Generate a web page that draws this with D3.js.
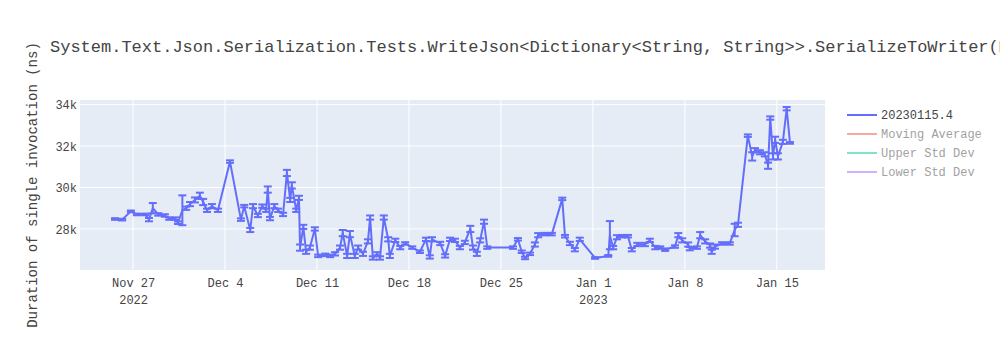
<!DOCTYPE html>
<html>
<head>
<meta charset="utf-8">
<script src="https://cdn.jsdelivr.net/npm/d3@7"></script>
<style>
  html, body { margin: 0; padding: 0; background: #fff; }
  svg { display: block; }
  text { font-family: "Liberation Mono", "Courier New", monospace; }
</style>
</head>
<body>
<svg id="chart" width="1000" height="350"></svg>
<script>
// ---- data ----
const dates = [
  "2022-11-25T15:00","2022-11-26T04:00","2022-11-26T20:00","2022-11-27T07:00","2022-11-27T22:00",
  "2022-11-28T05:00","2022-11-28T12:00","2022-11-28T22:00","2022-11-29T10:00","2022-11-29T18:00",
  "2022-11-30T05:00","2022-11-30T10:00","2022-11-30T18:00","2022-12-01T01:00","2022-12-01T08:00",
  "2022-12-01T17:00","2022-12-02T02:00","2022-12-02T08:00","2022-12-02T15:00","2022-12-03T00:00",
  "2022-12-03T11:00","2022-12-04T09:00","2022-12-05T05:00","2022-12-05T11:00","2022-12-05T22:00",
  "2022-12-06T03:00","2022-12-06T12:00","2022-12-06T20:00","2022-12-07T03:00","2022-12-07T06:00",
  "2022-12-07T10:00","2022-12-07T18:00","2022-12-08T01:00","2022-12-08T10:00","2022-12-08T17:00",
  "2022-12-08T23:00","2022-12-09T02:00","2022-12-09T10:00","2022-12-09T15:00","2022-12-09T17:00",
  "2022-12-09T23:00","2022-12-10T04:00","2022-12-10T11:00","2022-12-10T20:00","2022-12-11T02:00",
  "2022-12-11T15:00","2022-12-12T00:00","2022-12-12T09:00","2022-12-12T18:00","2022-12-12T23:00",
  "2022-12-13T07:00","2022-12-13T12:00","2022-12-13T21:00","2022-12-14T03:00","2022-12-14T12:00",
  "2022-12-14T21:00","2022-12-15T01:00","2022-12-15T06:00","2022-12-15T14:00","2022-12-15T19:00",
  "2022-12-16T02:00","2022-12-16T10:00","2022-12-16T13:00","2022-12-16T23:00","2022-12-17T08:00",
  "2022-12-17T17:00","2022-12-18T06:00","2022-12-18T20:00","2022-12-19T07:00","2022-12-19T14:00",
  "2022-12-19T18:00","2022-12-20T09:00","2022-12-20T18:00","2022-12-21T03:00","2022-12-21T12:00",
  "2022-12-21T21:00","2022-12-22T06:00","2022-12-22T16:00","2022-12-22T21:00","2022-12-23T04:00",
  "2022-12-23T10:00","2022-12-23T17:00","2022-12-23T23:00","2022-12-25T22:00","2022-12-26T07:00",
  "2022-12-26T14:00","2022-12-26T20:00","2022-12-27T05:00","2022-12-27T14:00","2022-12-27T20:00",
  "2022-12-28T08:00","2022-12-28T21:00","2022-12-29T16:00","2022-12-29T21:00","2022-12-30T06:00",
  "2022-12-30T15:00","2022-12-31T00:00","2023-01-01T04:00","2023-01-02T04:00","2023-01-02T07:00",
  "2023-01-02T13:00","2023-01-02T20:00","2023-01-03T05:00","2023-01-03T16:00","2023-01-03T23:00",
  "2023-01-04T09:00","2023-01-04T23:00","2023-01-05T08:00","2023-01-05T18:00","2023-01-06T03:00",
  "2023-01-06T12:00","2023-01-07T06:00","2023-01-07T12:00","2023-01-07T19:00","2023-01-08T06:00",
  "2023-01-08T09:00","2023-01-08T22:00","2023-01-09T04:00","2023-01-09T13:00","2023-01-09T22:00",
  "2023-01-10T01:00","2023-01-10T07:00","2023-01-10T20:00","2023-01-11T10:00","2023-01-11T19:00",
  "2023-01-12T01:00","2023-01-12T19:00","2023-01-13T03:00","2023-01-13T08:00","2023-01-13T17:00",
  "2023-01-14T02:00","2023-01-14T08:00","2023-01-14T12:00","2023-01-14T17:00","2023-01-14T21:00",
  "2023-01-15T02:00","2023-01-15T11:00","2023-01-15T18:00","2023-01-16T00:00"
];
const values = [
  28480,28450,28850,28700,28700,
  28450,29000,28700,28650,28500,
  28500,28300,28900,29000,29200,
  29400,29600,29300,28900,29100,
  28900,31250,28450,29100,27950,
  29100,28650,29100,28900,29900,
  28500,29100,28900,28700,30700,
  29400,30100,28900,29500,27100,
  28100,26900,27100,28000,26700,
  26750,26700,26800,27100,27800,
  26700,27750,26700,27100,26800,
  27400,28550,26600,26800,26600,
  28550,27500,26700,27450,27100,
  27300,27100,26900,27500,26650,
  27500,27300,26700,27500,27450,
  27100,27350,28000,27100,26800,
  27450,28350,27100,27100,27500,
  26900,26600,26800,27250,27700,
  27750,27750,29450,27650,27300,
  27000,27500,26600,26700,27700,
  27100,27600,27650,27650,27000,
  27250,27250,27450,27100,27100,
  27000,27150,27700,27450,27250,
  27050,27100,27700,27400,27200,
  26900,27150,27300,27300,27950,
  28200,32500,31500,31800,31700,
  31600,31050,33350,31500,32300,
  31500,32200,33800,32150
];
const errors = [
  40,40,40,40,40,
  80,250,60,60,60,
  60,60,720,80,100,
  120,150,150,80,100,
  80,60,60,60,100,
  100,80,80,80,150,
  80,100,80,80,150,
  100,150,80,100,150,
  100,100,100,80,60,
  60,60,80,100,150,
  100,150,100,100,100,
  100,100,80,80,80,
  100,100,100,80,80,
  60,60,60,80,80,
  100,80,80,80,80,
  80,80,150,100,100,
  100,100,60,60,60,
  60,60,60,100,100,
  60,60,60,60,80,
  80,80,40,40,680,
  80,100,60,60,80,
  80,80,80,80,60,
  60,60,100,100,100,
  80,60,150,100,100,
  100,100,60,60,300,
  100,60,200,100,100,
  100,150,80,150,150,
  150,100,80,40
];
const yTickValues = [28000, 30000, 32000, 34000];
const yTickLabels = ["28k", "30k", "32k", "34k"];
const legendNames = ["20230115.4", "Moving Average", "Upper Std Dev", "Lower Std Dev"];
const legendColors = ["#636efa", "#EF553B", "#00cc96", "#ab63fa"];
const legendVisible = [true, false, false, false];
const titleText = "System.Text.Json.Serialization.Tests.WriteJson<Dictionary<String, String>>.SerializeToWriter(Mode: Reflection)";
const yTitle = "Duration of single invocation (ns)";

// ---- layout ----
const W = 1000, H = 350;
const plot = { left: 80, right: 825, top: 100, bottom: 270 };
const parse = d3.isoParse;
const points = dates.map((d, i) => ({ t: parse(d), v: values[i], e: errors[i] }));

const x = d3.scaleTime()
  .domain([parse("2022-11-22T23:00"), parse("2023-01-18T16:00")])
  .range([plot.left, plot.right]);
const y = d3.scaleLinear()
  .domain([26020, 34220])
  .range([plot.bottom, plot.top]);

const svg = d3.select("#chart");
svg.append("rect").attr("width", W).attr("height", H).attr("fill", "#fff");
svg.append("rect")
  .attr("x", plot.left).attr("y", plot.top)
  .attr("width", plot.right - plot.left).attr("height", plot.bottom - plot.top)
  .attr("fill", "#e5ecf6");

// grid
const xTicks = d3.timeWeek.every(1).range(parse("2022-11-27T00:00"), parse("2023-01-16T00:00"));
svg.append("g").selectAll("line").data(xTicks).join("line")
  .attr("x1", d => x(d)).attr("x2", d => x(d))
  .attr("y1", plot.top).attr("y2", plot.bottom)
  .attr("stroke", "#fff").attr("stroke-width", 1);
svg.append("g").selectAll("line").data(yTickValues).join("line")
  .attr("x1", plot.left).attr("x2", plot.right)
  .attr("y1", d => y(d)).attr("y2", d => y(d))
  .attr("stroke", "#fff").attr("stroke-width", 1);

// axes
const fmtMD = d3.timeFormat("%b %-d");
const xAxis = d3.axisBottom(x).tickValues(xTicks).tickSize(0).tickPadding(0).tickFormat("");
const gx = svg.append("g").attr("transform", `translate(0,${plot.bottom})`).call(xAxis);
gx.select(".domain").remove();
gx.selectAll(".tick").each(function (d, i) {
  const g = d3.select(this);
  g.append("text").attr("y", 17).attr("fill", "#444").attr("font-size", 12)
    .attr("text-anchor", "middle").text(fmtMD(d));
  const prev = xTicks[i - 1];
  if (i === 0 || prev.getFullYear() !== d.getFullYear()) {
    g.append("text").attr("y", 34).attr("fill", "#444").attr("font-size", 12)
      .attr("text-anchor", "middle").text(d.getFullYear());
  }
});

const yAxis = d3.axisLeft(y).tickValues(yTickValues).tickSize(0).tickPadding(3)
  .tickFormat((d, i) => yTickLabels[i]);
const gy = svg.append("g").attr("transform", `translate(${plot.left},0)`).call(yAxis);
gy.select(".domain").remove();
gy.selectAll("text").attr("fill", "#444").attr("font-size", 12)
  .attr("font-family", "'Liberation Mono', 'Courier New', monospace")
  .attr("dy", "0.35em");

// clip
svg.append("clipPath").attr("id", "clip").append("rect")
  .attr("x", plot.left).attr("y", plot.top)
  .attr("width", plot.right - plot.left).attr("height", plot.bottom - plot.top);

const color = legendColors[0];
const gData = svg.append("g").attr("clip-path", "url(#clip)");
// error bars
const eb = gData.append("g").selectAll("g").data(points).join("g");
eb.append("line")
  .attr("x1", d => x(d.t)).attr("x2", d => x(d.t))
  .attr("y1", d => y(d.v - d.e)).attr("y2", d => y(d.v + d.e))
  .attr("stroke", color).attr("stroke-width", 2);
eb.append("line")
  .attr("x1", d => x(d.t) - 4).attr("x2", d => x(d.t) + 4)
  .attr("y1", d => y(d.v + d.e)).attr("y2", d => y(d.v + d.e))
  .attr("stroke", color).attr("stroke-width", 2);
eb.append("line")
  .attr("x1", d => x(d.t) - 4).attr("x2", d => x(d.t) + 4)
  .attr("y1", d => y(d.v - d.e)).attr("y2", d => y(d.v - d.e))
  .attr("stroke", color).attr("stroke-width", 2);
// line
gData.append("path").datum(points)
  .attr("fill", "none").attr("stroke", color).attr("stroke-width", 2)
  .attr("stroke-linejoin", "round")
  .attr("d", d3.line().x(d => x(d.t)).y(d => y(d.v)));

// title
svg.append("text").attr("x", 50).attr("y", 52)
  .attr("fill", "#444").attr("font-size", 17).text(titleText);

// y title
svg.append("text")
  .attr("transform", `translate(37,${(plot.top + plot.bottom) / 2}) rotate(-90)`)
  .attr("text-anchor", "middle").attr("fill", "#444").attr("font-size", 14)
  .text(yTitle);

// legend
const lg = svg.append("g").attr("transform", "translate(845,115)");
const items = lg.selectAll("g").data(legendNames).join("g")
  .attr("transform", (d, i) => `translate(0,${i * 19})`)
  .attr("opacity", (d, i) => legendVisible[i] ? 1 : 0.5);
items.append("line").attr("x1", 2).attr("x2", 32).attr("y1", 0).attr("y2", 0)
  .attr("stroke", (d, i) => legendColors[i]).attr("stroke-width", 2);
items.append("text").attr("x", 36).attr("y", 0).attr("dy", "0.35em")
  .attr("fill", "#444").attr("font-size", 12).text(d => d);
</script>
</body>
</html>
